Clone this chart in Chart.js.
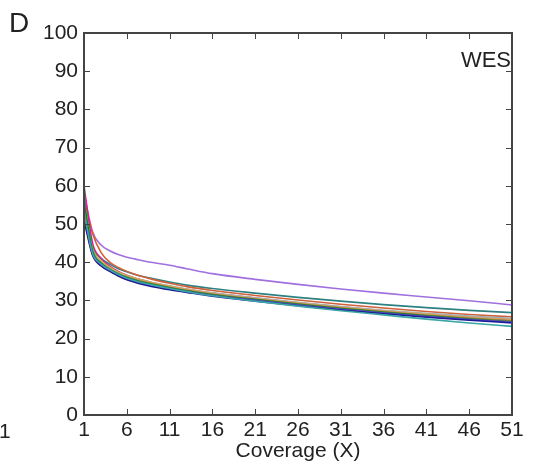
<!DOCTYPE html>
<html>
<head>
<meta charset="utf-8">
<script src="https://cdn.jsdelivr.net/npm/chart.js@4.4.0/dist/chart.umd.min.js"></script>
<style>
  html, body { margin: 0; padding: 0; background: #fff; }
  #wrap { width: 546px; height: 466px; }
</style>
</head>
<body>
<div id="wrap"><canvas id="chart"></canvas></div>
<script>
// coverage points (X)
var coverage = [1, 2, 3, 4, 5, 6, 7, 8, 9, 11, 13, 16, 21, 26, 31, 36, 41, 46, 51];

// one array per line
var purple  = [58, 48, 44.5, 43, 42, 41.3, 40.8, 40.3, 39.9, 39.2, 38.3, 37, 35.5, 34.2, 33, 31.9, 30.9, 29.9, 28.8];
var teal    = [55, 44, 41, 39.5, 38.3, 37.5, 36.8, 36.2, 35.7, 34.8, 34, 33.1, 31.9, 30.8, 29.8, 28.9, 28.1, 27.4, 26.8];
var red     = [57, 47.5, 42.5, 40, 38.6, 37.6, 36.8, 36.1, 35.5, 34.5, 33.6, 32.6, 31.3, 30.1, 29, 28, 27.1, 26.3, 25.7];
var grey    = [54, 43, 40, 38.5, 37.3, 36.5, 35.8, 35.2, 34.7, 33.8, 33, 32, 30.7, 29.5, 28.4, 27.4, 26.6, 25.9, 25.3];
var tan     = [54, 43.5, 40.3, 38.7, 37.4, 36.5, 35.8, 35.2, 34.6, 33.7, 32.9, 31.8, 30.5, 29.3, 28.2, 27.2, 26.4, 25.6, 25.0];
var olive   = [53, 42.5, 39.8, 38.2, 37, 36.1, 35.4, 34.8, 34.3, 33.4, 32.6, 31.6, 30.3, 29.1, 28, 27, 26.1, 25.3, 24.6];
var green   = [56, 43, 39.8, 38.1, 36.9, 36, 35.3, 34.7, 34.2, 33.3, 32.5, 31.5, 30.2, 29, 27.9, 26.9, 26, 25.1, 24.4];
var blue    = [52, 42, 39.2, 37.8, 36.6, 35.6, 34.9, 34.3, 33.8, 33, 32.3, 31.3, 30, 28.8, 27.7, 26.7, 25.8, 25, 24.3];
var navy    = [51, 41.8, 39, 37.6, 36.4, 35.4, 34.7, 34.1, 33.6, 32.8, 32.1, 31.1, 29.8, 28.6, 27.5, 26.5, 25.6, 24.8, 24.1];
var magenta = [60, 45, 41, 39, 37.6, 36.6, 35.8, 35.2, 34.6, 33.7, 32.9, 31.9, 30.6, 29.4, 28.3, 27.3, 26.4, 25.6, 24.9];
var cyan    = [53, 42.3, 39.5, 38, 36.8, 35.8, 35.1, 34.5, 34, 33.1, 32.3, 31.2, 29.8, 28.5, 27.3, 26.2, 25.1, 24.1, 23.2];

var xTicks = [1, 6, 11, 16, 21, 26, 31, 36, 41, 46, 51];
var yTicks = [0, 10, 20, 30, 40, 50, 60, 70, 80, 90, 100];

var series = [
  ['cyan', cyan, '#3aa6a6'],
  ['navy', navy, '#1a1a9a'],
  ['blue', blue, '#5a4ac8'],
  ['green', green, '#2a7a2a'],
  ['olive', olive, '#8a8a30'],
  ['tan', tan, '#d8a060'],
  ['grey', grey, '#a0b0b8'],
  ['magenta', magenta, '#c0308a'],
  ['red', red, '#d0603a'],
  ['teal', teal, '#2e8080'],
  ['purple', purple, '#a070e0']
];

function pts(arr) {
  return coverage.map(function (x, i) { return { x: x, y: arr[i] }; });
}

var datasets = series.map(function (s) {
  return {
    label: s[0],
    data: pts(s[1]),
    borderColor: s[2],
    borderWidth: 1.6,
    pointRadius: 0,
    fill: false,
    cubicInterpolationMode: 'monotone'
  };
});

var axisColor = '#444';
var fam = 'Liberation Sans, Arial, sans-serif';
var font = { family: fam, size: 21 };

// frame, inward ticks and the loose labels
var framePlugin = {
  id: 'frame',
  afterDraw: function (chart) {
    var c = chart.ctx, a = chart.chartArea;
    var xs = chart.scales.x, ys = chart.scales.y;
    c.save();
    c.strokeStyle = axisColor;
    c.lineWidth = 2;
    c.strokeRect(a.left, a.top, a.right - a.left, a.bottom - a.top);
    c.lineWidth = 1;
    c.beginPath();
    xTicks.forEach(function (t) {
      var px = Math.round(xs.getPixelForValue(t)) + 0.5;
      c.moveTo(px, a.bottom); c.lineTo(px, a.bottom - 6);
      c.moveTo(px, a.top); c.lineTo(px, a.top + 6);
    });
    yTicks.forEach(function (t) {
      var py = Math.round(ys.getPixelForValue(t)) + 0.5;
      c.moveTo(a.left, py); c.lineTo(a.left + 6, py);
      c.moveTo(a.right, py); c.lineTo(a.right - 6, py);
    });
    c.stroke();

    c.fillStyle = '#222';
    c.textBaseline = 'alphabetic';
    c.font = '28px ' + fam;
    c.textAlign = 'left';
    c.fillText('D', 9, 32);
    c.font = '22px ' + fam;
    c.textAlign = 'right';
    c.fillText('WES', 511, 67);
    c.font = '21px ' + fam;
    c.textAlign = 'left';
    c.fillText('1', -1, 438);
    c.restore();
  }
};

var ctx = document.getElementById('chart').getContext('2d');
var chart = new Chart(ctx, {
  type: 'line',
  data: { datasets: datasets },
  options: {
    responsive: true,
    maintainAspectRatio: false,
    animation: false,
    layout: { padding: { top: 33, right: 34, left: 0, bottom: 0 } },
    plugins: { legend: { display: false }, tooltip: { enabled: false } },
    scales: {
      x: {
        type: 'linear',
        min: 1,
        max: 51,
        afterBuildTicks: function (s) { s.ticks = xTicks.map(function (v) { return { value: v }; }); },
        afterFit: function (s) { s.height = 51; },
        grid: { display: false, drawTicks: false },
        border: { display: false },
        ticks: { color: '#222', font: font, padding: 3, maxRotation: 0, autoSkip: false },
        title: { display: true, text: 'Coverage (X)', color: '#222', font: font, padding: { top: 0, bottom: 2 } }
      },
      y: {
        min: 0,
        max: 100,
        afterBuildTicks: function (s) { s.ticks = yTicks.map(function (v) { return { value: v }; }); },
        afterFit: function (s) { s.width = 84; },
        grid: { display: false, drawTicks: false },
        border: { display: false },
        ticks: { color: '#222', font: font, padding: 6 }
      }
    }
  },
  plugins: [framePlugin]
});
</script>
</body>
</html>
